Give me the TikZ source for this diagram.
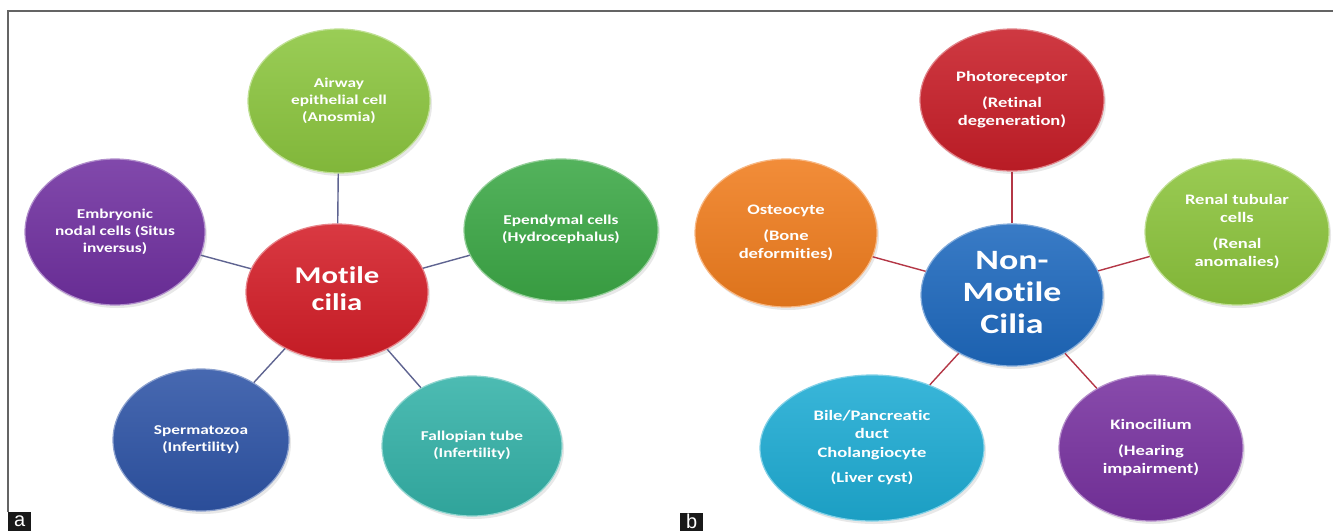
\documentclass[tikz,border=0pt]{standalone}
\usepackage{graphicx}
\usepackage{fontspec}
\setmainfont{Carlito}[Ligatures={NoCommon}]
\newfontfamily\labfont{Liberation Sans}
\usetikzlibrary{shapes.geometric,shadows}
\definecolor{cAirway}{RGB}{140,198,63}
\definecolor{cEmbryo}{RGB}{112,48,160}
\definecolor{cEpend}{RGB}{60,168,70}
\definecolor{cMotile}{RGB}{212,30,40}
\definecolor{cSperm}{RGB}{46,84,166}
\definecolor{cFallop}{RGB}{52,178,168}
\definecolor{cPhoto}{RGB}{200,30,40}
\definecolor{cOsteo}{RGB}{240,125,30}
\definecolor{cRenal}{RGB}{140,196,60}
\definecolor{cNonMot}{RGB}{30,105,190}
\definecolor{cBile}{RGB}{30,172,212}
\definecolor{cKino}{RGB}{120,50,160}
\definecolor{cLinkA}{RGB}{95,100,145}
\definecolor{cLinkB}{RGB}{180,55,70}
\definecolor{cFrame}{RGB}{100,100,100}
\newcommand\sx[1]{\scalebox{1.28}[1]{\begin{tabular}{@{}c@{}}#1\end{tabular}}}
\tikzset{
  bub/.style={ellipse, inner sep=0pt, text=white, line width=1.2pt,
    drop shadow={opacity=0.18, shadow xshift=2pt, shadow yshift=-3pt}},
  col/.style={top color=#1!88!white, bottom color=#1!92!black, draw=#1!55!white},
  smallA/.style={font=\bfseries\fontsize{13.5}{17}\selectfont},
  smallB/.style={font=\bfseries\fontsize{14.5}{18.5}\selectfont},
  linkA/.style={draw=cLinkA, line width=1.4pt},
  linkB/.style={draw=cLinkB, line width=1.4pt},
  panlab/.style={fill=black!90, text=white, inner sep=0pt, font=\labfont\fontsize{20}{20}\selectfont}
}
\begin{document}
\begin{tikzpicture}[x=1pt,y=-1pt]
\useasboundingbox (0,0) rectangle (1333,531);
\fill[white] (0,0) rectangle (1333,531);
% frame
\draw[cFrame, line width=1.4pt] (8,512) -- (8,11) -- (1333,11);
% panel a
\node[bub, col=cAirway, smallA, minimum width=182pt, minimum height=144pt] (air) at (339,101) {\sx{Airway\\epithelial cell\\(Anosmia)}};
\node[bub, col=cEmbryo, smallA, minimum width=180pt, minimum height=146pt] (emb) at (115,232) {\sx{Embryonic\\nodal cells (Situs\\inversus)}};
\node[bub, col=cEpend, smallA, minimum width=194pt, minimum height=142pt] (epe) at (561,230) {\sx{Ependymal cells\\(Hydrocephalus)}};
\node[bub, col=cMotile, font=\bfseries\fontsize{24}{27}\selectfont, minimum width=182pt, minimum height=136pt] (mot) at (337,292) {\sx{Motile\\cilia}};
\node[bub, col=cSperm, smallA, minimum width=176pt, minimum height=142pt] (spe) at (201,440) {\sx{Spermatozoa\\(Infertility)}};
\node[bub, col=cFallop, smallA, minimum width=180pt, minimum height=140pt] (fal) at (472,446) {\sx{Fallopian tube\\(Infertility)}};
\draw[linkA] (air) -- (mot);
\draw[linkA] (emb) -- (mot);
\draw[linkA] (epe) -- (mot);
\draw[linkA] (spe) -- (mot);
\draw[linkA] (fal) -- (mot);
% panel b
\node[bub, col=cPhoto, smallB, minimum width=184pt, minimum height=142pt] (pho) at (1012,100) {\sx{Photoreceptor\\[7pt](Retinal\\degeneration)}};
\node[bub, col=cOsteo, smallB, minimum width=182pt, minimum height=148pt] (ost) at (786,233) {\sx{Osteocyte\\[7pt](Bone\\deformities)}};
\node[bub, col=cRenal, smallB, minimum width=184pt, minimum height=146pt] (ren) at (1237,232) {\sx{Renal tubular\\cells\\[7pt](Renal\\anomalies)}};
\node[bub, col=cNonMot, font=\bfseries\fontsize{28}{32}\selectfont, minimum width=182pt, minimum height=142pt] (nmc) at (1012,295) {\sx{Non-\\Motile\\Cilia}};
\node[bub, col=cBile, smallB, minimum width=224pt, minimum height=146pt] (bil) at (872,448) {\sx{Bile/Pancreatic\\duct\\Cholangiocyte\\[7pt](Liver cyst)}};
\node[bub, col=cKino, smallB, minimum width=184pt, minimum height=146pt] (kin) at (1151,448) {\sx{Kinocilium\\[7pt](Hearing\\impairment)}};
\draw[linkB] (pho) -- (nmc);
\draw[linkB] (ost) -- (nmc);
\draw[linkB] (ren) -- (nmc);
\draw[linkB] (bil) -- (nmc);
\draw[linkB] (kin) -- (nmc);
% panel labels
\node[panlab, anchor=south west, minimum width=23pt, minimum height=19pt] (la) at (8,531) {a};
\node[panlab, anchor=south west, minimum width=23pt, minimum height=18pt] (lb) at (680,531) {b};
\end{tikzpicture}
\end{document}
